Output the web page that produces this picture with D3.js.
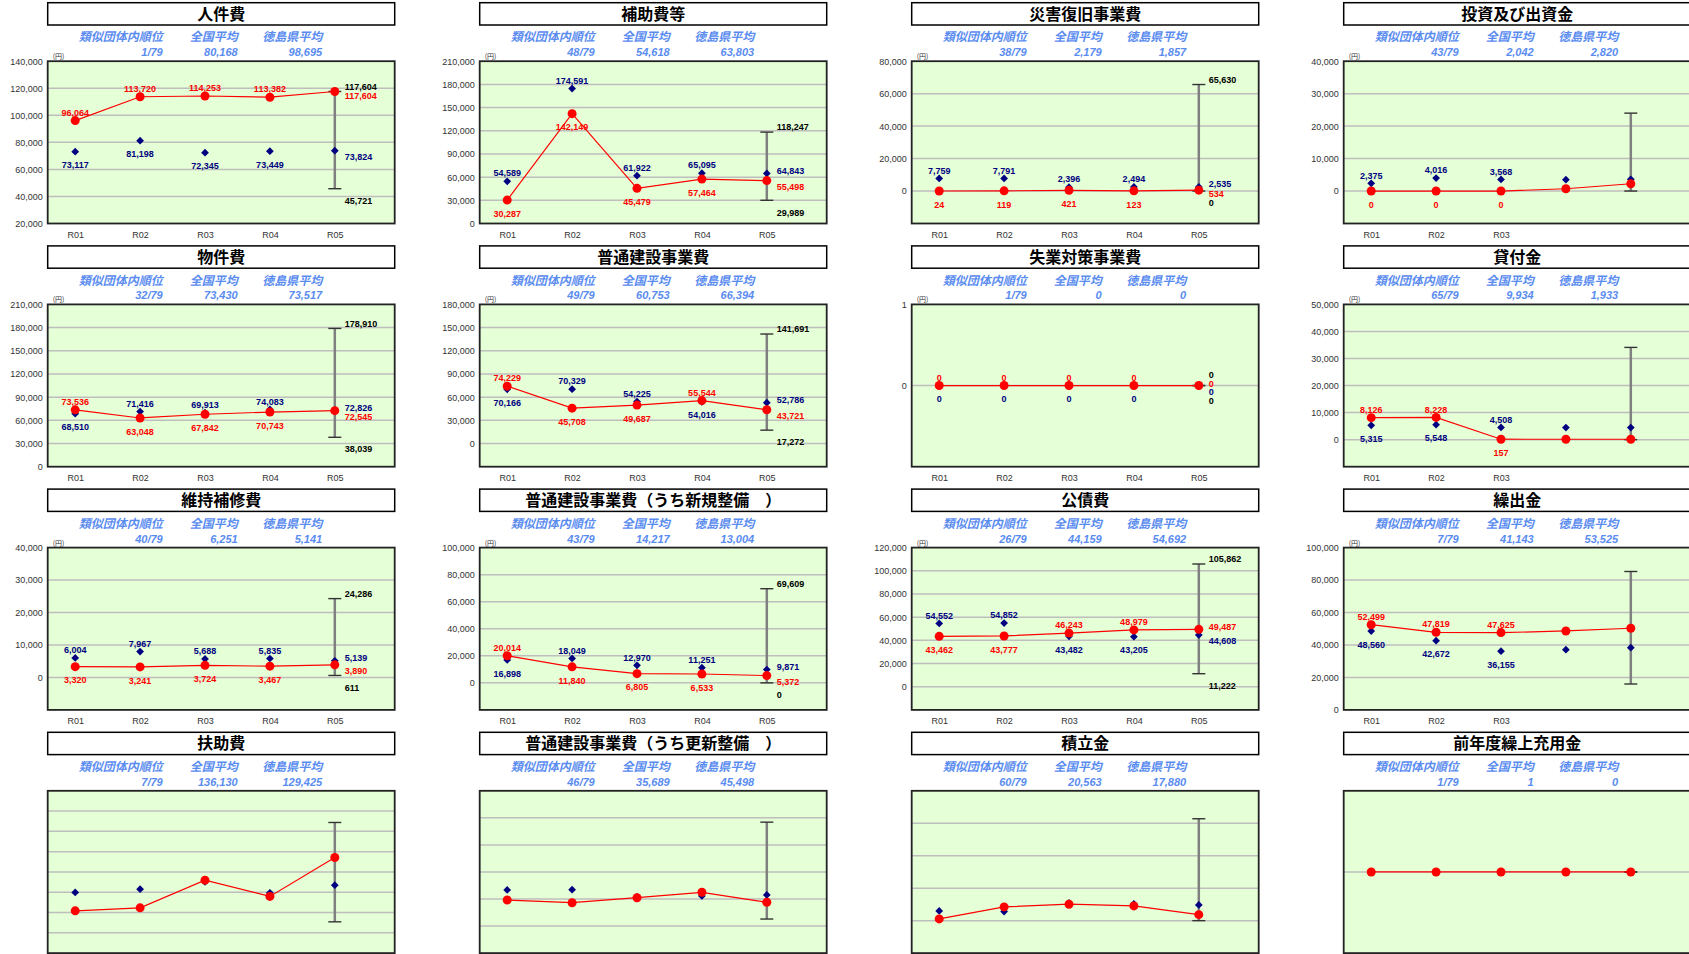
<!DOCTYPE html>
<html>
<head>
<meta charset="utf-8">
<script src="https://cdn.jsdelivr.net/npm/d3@7/dist/d3.min.js"></script>
<style>
body { margin: 0; background: #fff; }
svg { display: block; }
</style>
</head>
<body>
<script>
var categories = ["R01", "R02", "R03", "R04", "R05"];

var titles = ["人件費", "補助費等", "災害復旧事業費", "投資及び出資金",
	"物件費", "普通建設事業費", "失業対策事業費", "貸付金",
	"維持補修費", "普通建設事業費（うち新規整備　）", "公債費", "繰出金",
	"扶助費", "普通建設事業費（うち更新整備　）", "積立金", "前年度繰上充用金"];

var rankValues = ["1/79", "48/79", "38/79", "43/79", "32/79", "49/79", "1/79", "65/79",
	"40/79", "43/79", "26/79", "7/79", "7/79", "46/79", "60/79", "1/79"];
var nationalAvg = [80168, 54618, 2179, 2042, 73430, 60753, 0, 9934,
	6251, 14217, 44159, 41143, 136130, 35689, 20563, 1];
var prefAvg = [98695, 63803, 1857, 2820, 73517, 66394, 0, 1933,
	5141, 13004, 54692, 53525, 129425, 45498, 17880, 0];

// 当該団体 (red)
var cityValues = [
	[96064, 113720, 114253, 113382, 117604],
	[30287, 142149, 45479, 57464, 55498],
	[24, 119, 421, 123, 534],
	[0, 0, 0, 700, 2250],
	[73536, 63048, 67842, 70743, 72545],
	[74229, 45708, 49687, 55544, 43721],
	[0, 0, 0, 0, 0],
	[8126, 8228, 157, 150, 150],
	[3320, 3241, 3724, 3467, 3890],
	[20014, 11840, 6805, 6533, 5372],
	[43462, 43777, 46243, 48979, 49487],
	[52499, 47819, 47625, 48630, 50300],
	[62500, 66950, 107880, 83790, 141400],
	[19260, 17260, 20960, 24960, 17560],
	[1050, 8460, 10120, 9070, 3700],
	[0, 0, 0, 0, 0]
];
// 類似団体平均 (blue)
var groupValues = [
	[73117, 81198, 72345, 73449, 73824],
	[54589, 174591, 61922, 65095, 64843],
	[7759, 7791, 2396, 2494, 2535],
	[2375, 4016, 3568, 3480, 3600],
	[68510, 71416, 69913, 74083, 72826],
	[70166, 70329, 54225, 54016, 52786],
	[0, 0, 0, 0, 0],
	[5315, 5548, 4508, 4480, 4480],
	[6004, 7967, 5688, 5835, 5139],
	[16898, 18049, 12970, 11251, 9871],
	[54552, 54852, 43482, 43205, 44608],
	[48560, 42672, 36155, 37080, 38320],
	[89700, 94580, 105370, 89110, 100490],
	[26670, 26890, 21500, 22220, 22960],
	[5990, 5560, 10930, 10310, 9690],
	[0, 0, 0, 0, 0]
];
// R05 類似団体内 最大・最小
var groupMax = [117604, 118247, 65630, 24000, 178910, 141691, 0, 34100,
	24286, 69609, 105862, 85280, 193150, 76810, 62780, 0];
var groupMin = [45721, 29989, 0, 0, 38039, 17272, 0, 0,
	611, 0, 11222, 15960, 46260, 5190, 0, 0];

var axisMin = [20000, 0, -20000, -10000, 0, -30000, -1, -10000,
	-10000, -20000, -20000, 0, 0, -20000, -20000, -1];
var axisMax = [140000, 210000, 80000, 40000, 210000, 180000, 1, 50000,
	40000, 100000, 120000, 100000, 240000, 100000, 80000, 1];
var axisStep = [20000, 30000, 20000, 10000, 30000, 30000, 1, 10000,
	10000, 20000, 20000, 20000, 30000, 20000, 20000, 1];
var tickFrom = [20000, 0, 0, 0, 0, 0, 0, 0, 0, 0, 0, 0, 0, 0, 0, 0];

var headLabels = ["類似団体内順位", "全国平均", "徳島県平均"];

var W = 1689, H = 954;
var plotW = 347, plotH = 162.3, titleH = 22.3, plotOff = 58.5;
var fontJP = "'Noto Sans CJK JP', sans-serif";
var fontNum = "'Liberation Sans', Arial, sans-serif";
var fmt = d3.format(",");

var svg = d3.select("body").append("svg").attr("width", W).attr("height", H);

titles.forEach(function(t, i) {
	var col = i % 4;
	var row = Math.floor(i / 4);
	drawPanel(i, 47.7 + col * 432, 2.7 + row * 243.2, row < 3, col < 3 ? 5 : 3);
});

function drawPanel(i, ox, oy, showAxis, nLabeled) {
	var g = svg.append("g").attr("transform", "translate(" + ox + "," + oy + ")");

	// タイトル
	g.append("rect").attr("x", 0).attr("y", 0).attr("width", plotW).attr("height", titleH)
		.attr("fill", "#fff").attr("stroke", "#000").attr("stroke-width", 1.5);
	g.append("text").attr("x", plotW / 2).attr("y", 17).attr("text-anchor", "middle")
		.attr("font-family", fontJP).attr("font-weight", "bold").attr("font-size", 16)
		.attr("fill", "#000").text(titles[i]);

	// 順位・平均
	var hx = [115, 190, 274.5];
	var hv = [rankValues[i], fmt(nationalAvg[i]), fmt(prefAvg[i])];
	headLabels.forEach(function(h, k) {
		g.append("text").attr("x", hx[k]).attr("y", 38.8).attr("text-anchor", "end")
			.attr("font-family", fontJP).attr("font-weight", "bold").attr("font-style", "italic")
			.attr("font-size", 12).attr("fill", "#5A8CF0").text(h);
		g.append("text").attr("x", hx[k]).attr("y", 53.5).attr("text-anchor", "end")
			.attr("font-family", fontNum).attr("font-weight", "bold").attr("font-style", "italic")
			.attr("font-size", 11).attr("fill", "#5A8CF0").text(hv[k]);
	});

	var pg = g.append("g").attr("transform", "translate(0," + plotOff + ")");
	var y = d3.scaleLinear().domain([axisMin[i], axisMax[i]]).range([plotH, 0]);
	var x = d3.scalePoint().domain(categories).range([27.5, 287.1]);
	var step = axisStep[i];

	pg.append("rect").attr("width", plotW).attr("height", plotH).attr("fill", "#E5FFD6");

	// 目盛線
	var grid = d3.range(axisMin[i] + step, axisMax[i] - step / 2, step);
	pg.selectAll("line.grid").data(grid).enter().append("line").attr("class", "grid")
		.attr("x1", 0).attr("x2", plotW)
		.attr("y1", function(d) { return y(d); }).attr("y2", function(d) { return y(d); })
		.attr("stroke", "#BEBEBE").attr("stroke-width", 1.5);

	pg.append("rect").attr("width", plotW).attr("height", plotH).attr("fill", "none")
		.attr("stroke", "#222").attr("stroke-width", 1.8);

	if (showAxis) {
		var ticks = d3.range(tickFrom[i], axisMax[i] + step / 2, step);
		var ya = pg.append("g").call(d3.axisLeft(y).tickValues(ticks).tickSize(0).tickPadding(5).tickFormat(fmt));
		ya.select(".domain").remove();
		ya.selectAll("text").attr("font-family", fontNum).attr("font-size", 9).attr("fill", "#333");

		var xa = pg.append("g").attr("transform", "translate(0," + plotH + ")")
			.call(d3.axisBottom(x).tickValues(categories.slice(0, nLabeled)).tickSize(0).tickPadding(8));
		xa.select(".domain").remove();
		xa.selectAll("text").attr("font-family", fontNum).attr("font-size", 9).attr("fill", "#333");

		pg.append("text").attr("x", 5).attr("y", -2).attr("font-family", fontJP)
			.attr("font-size", 7).attr("fill", "#333").text("(円)");
	}

	// 最大・最小
	var xb = x("R05");
	pg.append("line").attr("x1", xb).attr("x2", xb)
		.attr("y1", y(groupMax[i])).attr("y2", y(groupMin[i]))
		.attr("stroke", "#808080").attr("stroke-width", 2.5);
	[groupMax[i], groupMin[i]].forEach(function(v) {
		pg.append("line").attr("x1", xb - 6.5).attr("x2", xb + 6.5)
			.attr("y1", y(v)).attr("y2", y(v))
			.attr("stroke", "#333").attr("stroke-width", 1.4);
	});

	// 類似団体平均
	pg.selectAll("path.grp").data(groupValues[i]).enter().append("path").attr("class", "grp")
		.attr("d", d3.symbol(d3.symbolSquare, 30))
		.attr("transform", function(d, j) { return "translate(" + x(categories[j]) + "," + y(d) + ") rotate(45)"; })
		.attr("fill", "#000080");

	// 当該団体
	var line = d3.line().x(function(d, j) { return x(categories[j]); }).y(function(d) { return y(d); });
	pg.append("path").attr("d", line(cityValues[i])).attr("fill", "none")
		.attr("stroke", "#FF0000").attr("stroke-width", 1.2);
	pg.selectAll("circle.city").data(cityValues[i]).enter().append("circle").attr("class", "city")
		.attr("cx", function(d, j) { return x(categories[j]); })
		.attr("cy", function(d) { return y(d); })
		.attr("r", 4.5).attr("fill", "#FF0000");

	if (!showAxis) return;

	// データラベル
	var lbl = function(px, cy, txt, color, anchor) {
		pg.append("text").attr("x", px).attr("y", cy + 3.2).attr("text-anchor", anchor || "middle")
			.attr("font-family", fontNum).attr("font-weight", "bold").attr("font-size", 9)
			.attr("fill", color).text(txt);
	};
	for (var j = 0; j < Math.min(nLabeled, 4); j++) {
		var r = cityValues[i][j], b = groupValues[i][j], cx = x(categories[j]);
		if (r >= b) {
			lbl(cx, y(r) - 8, fmt(r), "#FF0000");
			lbl(cx, y(b) + 13.5, fmt(b), "#000080");
		} else {
			lbl(cx, y(r) + 13.5, fmt(r), "#FF0000");
			lbl(cx, y(b) - 8, fmt(b), "#000080");
		}
	}
	if (nLabeled < 5) return;

	var r5 = cityValues[i][4], b5 = groupValues[i][4];
	var mids = r5 >= b5
		? [{v: r5, c: "#FF0000", p: y(r5) - 3}, {v: b5, c: "#000080", p: y(b5) + 6}]
		: [{v: b5, c: "#000080", p: y(b5) - 3}, {v: r5, c: "#FF0000", p: y(r5) + 6}];
	var items = [{v: groupMax[i], c: "#000", p: y(groupMax[i]) - 5}].concat(mids,
		[{v: groupMin[i], c: "#000", p: y(groupMin[i]) + 12}]);
	placeRight(items, 9);
	items.forEach(function(it) { lbl(xb + 10, it.p, fmt(it.v), it.c, "start"); });
}

// 右側ラベルの重なり回避
function placeRight(items, gap) {
	var desired = items.map(function(it) { return it.p; });
	var n = items.length;
	for (var k = 1; k < n - 1; k++) items[k].p = Math.max(items[k].p, items[k - 1].p + gap);
	for (k = n - 2; k > 0; k--) items[k].p = Math.min(items[k].p, items[k + 1].p - gap);
	if (items[1].p < items[0].p + gap - 0.01) {
		var mean = d3.mean(desired);
		items.forEach(function(it, k) { it.p = mean + (k - (n - 1) / 2) * 8.5; });
	}
}
</script>
</body>
</html>
